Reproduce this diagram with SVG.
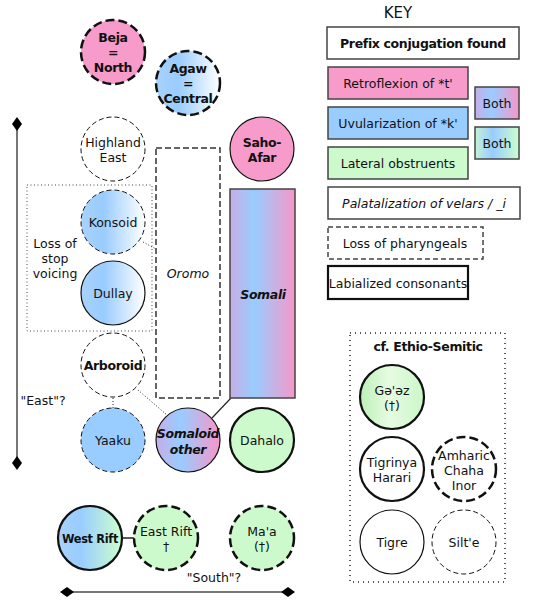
<svg xmlns="http://www.w3.org/2000/svg" width="540" height="605" viewBox="0 0 540 605">
<defs>
<linearGradient id="gBW" x1="0" y1="0" x2="1" y2="0"><stop offset="0" stop-color="#a9d2fb"/><stop offset="0.35" stop-color="#99ccff"/><stop offset="1" stop-color="#ffffff"/></linearGradient>
<linearGradient id="gSom" x1="0" y1="0" x2="1" y2="0"><stop offset="0" stop-color="#c6aee6"/><stop offset="0.38" stop-color="#99ccff"/><stop offset="1" stop-color="#f797c8"/></linearGradient>
<linearGradient id="gBoth2" x1="0" y1="0" x2="1" y2="0"><stop offset="0" stop-color="#c4f2d6"/><stop offset="0.4" stop-color="#99ccff"/><stop offset="1" stop-color="#ccffcc"/></linearGradient>
<linearGradient id="gWR" x1="0" y1="0" x2="1" y2="0"><stop offset="0" stop-color="#a9d2fb"/><stop offset="0.35" stop-color="#99ccff"/><stop offset="1" stop-color="#ccffcc"/></linearGradient>
<linearGradient id="gGeez" x1="0" y1="0" x2="1" y2="0"><stop offset="0" stop-color="#bdf0b6"/><stop offset="0.45" stop-color="#e6fbe2"/><stop offset="1" stop-color="#ccf7c8"/></linearGradient>
<marker id="dia" markerUnits="userSpaceOnUse" markerWidth="16" markerHeight="12" viewBox="-8 -6 16 12" refX="0" refY="0" orient="auto"><path d="M-7,0 L0,-5 L7,0 L0,5 Z" fill="#000"/></marker>
</defs>
<style>
text{font-family:"DejaVu Sans","Noto Sans",sans-serif;font-size:12.5px;fill:#111;text-anchor:middle;dominant-baseline:central}
.b{font-weight:bold;letter-spacing:-0.35px}
.i{font-style:italic}
.pink{fill:#f79bcb}
.blue{fill:#99ccff}
.green{fill:#ccfacc}
.white{fill:#fff}
.thickdash{stroke:#111;stroke-width:2.5;stroke-dasharray:9 4}
.thindash{stroke:#111;stroke-width:1;stroke-dasharray:5 3}
.solid{stroke:#111;stroke-width:1.2}
.solidthick{stroke:#111;stroke-width:2.2}
.key{stroke:#444;stroke-width:1.5}
.axis{stroke:#777;stroke-width:2;fill:none}
</style>

<g id="connectors">
<line class="axis" x1="17" y1="124" x2="17" y2="463" marker-start="url(#dia)" marker-end="url(#dia)"/>
<line class="axis" x1="67" y1="592" x2="288" y2="592" marker-start="url(#dia)" marker-end="url(#dia)"/>
<line x1="143" y1="242" x2="156" y2="249" stroke="#222" stroke-width="1" stroke-dasharray="1 2"/>
<line x1="113" y1="398" x2="113" y2="408" stroke="#222" stroke-width="1" stroke-dasharray="1 2"/>
<line x1="138" y1="390" x2="167" y2="415" stroke="#222" stroke-width="1" stroke-dasharray="1 2"/>
<line x1="212" y1="418" x2="231" y2="398" stroke="#222" stroke-width="1.2"/>
<line x1="122" y1="538" x2="134" y2="538" stroke="#222" stroke-width="1.5"/>
</g>

<g id="stop-voicing-area">
<rect x="27" y="185" width="125" height="146" fill="none" stroke="#444" stroke-width="1" stroke-dasharray="1 2.5"/>
<text x="55" y="243">Loss of</text>
<text x="55" y="258">stop</text>
<text x="55" y="273">voicing</text>
</g>

<g id="beja"><circle cx="113" cy="52" r="32" class="pink thickdash"/><text class="b" x="113" y="37">Beja</text><text class="b" x="113" y="52">=</text><text class="b" x="113" y="67">North</text></g>
<g id="agaw"><circle cx="188" cy="83" r="32" fill="url(#gBW)" class="thickdash"/><text class="b" x="188" y="68">Agaw</text><text class="b" x="188" y="83">=</text><text class="b" x="188" y="98">Central</text></g>
<g id="highland-east"><circle cx="113" cy="149" r="32" class="white thindash"/><text x="113" y="142">Highland</text><text x="113" y="157">East</text></g>
<g id="saho-afar"><circle cx="262" cy="149" r="32" class="pink solid"/><text class="b" x="262" y="142">Saho-</text><text class="b" x="262" y="157">Afar</text></g>
<g id="oromo"><rect x="156" y="148" width="64" height="250" fill="none" stroke="#333" stroke-width="1.5" stroke-dasharray="6 3"/><text class="i" x="188" y="273">Oromo</text></g>
<g id="somali"><rect x="230" y="189" width="65" height="209" fill="url(#gSom)" stroke="#444" stroke-width="1.5"/><text class="b i" x="263" y="294">Somali</text></g>
<g id="konsoid"><circle cx="113" cy="222" r="32" fill="url(#gBW)" class="thindash"/><text x="113" y="222">Konsoid</text></g>
<g id="dullay"><circle cx="113" cy="293" r="32" fill="url(#gBW)" class="solid"/><text x="113" y="293">Dullay</text></g>
<g id="arboroid"><circle cx="113" cy="365" r="32" class="white thindash"/><text class="b" x="113" y="365">Arboroid</text></g>
<g id="yaaku"><circle cx="113" cy="440" r="32" class="blue thindash"/><text x="113" y="440">Yaaku</text></g>
<g id="somaloid-other"><circle cx="188" cy="440" r="32" fill="url(#gSom)" class="solid"/><text class="b i" x="188" y="433">Somaloid</text><text class="b i" x="188" y="449">other</text></g>
<g id="dahalo"><circle cx="262" cy="440" r="32" class="green solidthick"/><text x="262" y="440">Dahalo</text></g>
<g id="west-rift"><circle cx="90" cy="538" r="32" fill="url(#gWR)" class="solidthick"/><text class="b" x="90" y="538" textLength="56" lengthAdjust="spacingAndGlyphs">West Rift</text></g>
<g id="east-rift"><circle cx="166" cy="538" r="32" class="green thickdash"/><text x="166" y="531">East Rift</text><text x="166" y="546">†</text></g>
<g id="maa"><circle cx="262" cy="538" r="32" class="green thickdash"/><text x="262" y="531">Ma'a</text><text x="262" y="546">(†)</text></g>
<text x="43" y="400">"East"?</text>
<text x="214" y="577">"South"?</text>

<g id="key">
<text x="398" y="13" style="font-size:15px">KEY</text>
<g id="key-prefix"><rect x="327" y="27" width="192" height="32" class="white key"/><text class="b" x="423" y="43">Prefix conjugation found</text></g>
<g id="key-retro"><rect x="328" y="67" width="140" height="32" class="pink key"/><text x="398" y="83">Retroflexion of *t'</text></g>
<g id="key-uvular"><rect x="328" y="107" width="140" height="32" class="blue key"/><text x="398" y="123">Uvularization of *k'</text></g>
<g id="key-lateral"><rect x="328" y="147" width="140" height="32" class="green key"/><text x="398" y="163">Lateral obstruents</text></g>
<g id="key-both1"><rect x="475" y="87" width="44" height="32" fill="url(#gSom)" class="key"/><text x="497" y="103">Both</text></g>
<g id="key-both2"><rect x="475" y="127" width="44" height="32" fill="url(#gBoth2)" class="key"/><text x="497" y="143">Both</text></g>
<g id="key-palatal"><rect x="328" y="187" width="192" height="32" class="white key"/><text class="i" x="424" y="203">Palatalization of velars / _i</text></g>
<g id="key-pharyngeal"><rect x="328" y="227" width="155" height="32" fill="#fff" stroke="#444" stroke-width="1.5" stroke-dasharray="5 3"/><text x="405" y="243">Loss of pharyngeals</text></g>
<g id="key-labial"><rect x="328" y="266" width="140" height="33" fill="#fff" stroke="#111" stroke-width="2.2"/><text x="398" y="283">Labialized consonants</text></g>
</g>

<g id="ethio-semitic">
<rect x="350" y="333" width="155" height="249" fill="none" stroke="#222" stroke-width="1.5" stroke-dasharray="1 4"/>
<text class="b" x="428" y="346">cf. Ethio-Semitic</text>
<g id="geez"><circle cx="392" cy="397" r="32" fill="url(#gGeez)" class="solidthick"/><text x="392" y="390">Gə'əz</text><text x="392" y="405">(†)</text></g>
<g id="tigrinya"><circle cx="392" cy="469" r="32" class="white solidthick"/><text x="392" y="462">Tigrinya</text><text x="392" y="477">Harari</text></g>
<g id="amharic"><circle cx="464" cy="469" r="32" class="white thickdash"/><text x="464" y="455">Amharic</text><text x="464" y="470">Chaha</text><text x="464" y="485">Inor</text></g>
<g id="tigre"><circle cx="392" cy="542" r="32" class="white solid"/><text x="392" y="542">Tigre</text></g>
<g id="silte"><circle cx="464" cy="542" r="32" class="white thindash"/><text x="464" y="542">Silt'e</text></g>
</g>
</svg>
